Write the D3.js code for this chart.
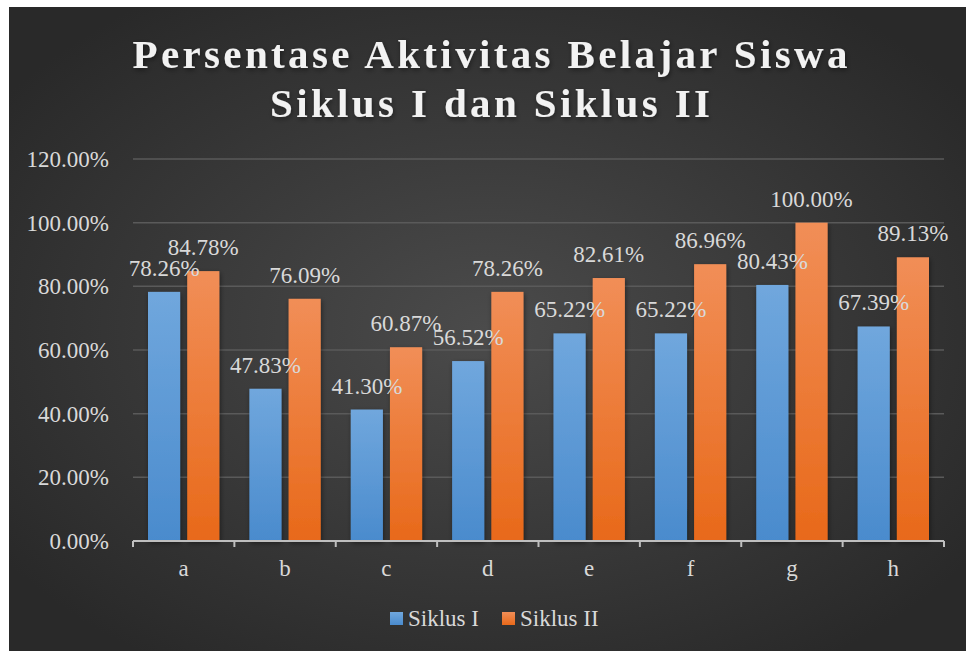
<!DOCTYPE html>
<html>
<head>
<meta charset="utf-8">
<title>Persentase Aktivitas Belajar Siswa</title>
<script src="https://cdn.jsdelivr.net/npm/d3@7"></script>
<style>
    body { margin: 0; background: #fff; }
    svg { display: block; }
    .tick-label, .cat-label, .value-label, .legend-label {
        font-family: "Liberation Serif", "Times New Roman", serif;
        font-size: 23px;
        fill: #d9d9d9;
    }
    .title {
        font-family: "Liberation Serif", "Times New Roman", serif;
        font-weight: bold;
        font-size: 41px;
        fill: #f2f2f2;
    }
</style>
</head>
<body>
<script>
    var categories = ["a", "b", "c", "d", "e", "f", "g", "h"];
    var seriesNames = ["Siklus I", "Siklus II"];
    var siklus1 = [78.26, 47.83, 41.30, 56.52, 65.22, 65.22, 80.43, 67.39];
    var siklus2 = [84.78, 76.09, 60.87, 78.26, 82.61, 86.96, 100.00, 89.13];
    var yTicks = [0, 20, 40, 60, 80, 100, 120];

    var width = 966, height = 651;
    var plot = { left: 133, right: 944, top: 159, bottom: 541 };

    var svg = d3.select("body").append("svg")
        .attr("width", width)
        .attr("height", height);

    var defs = svg.append("defs");

    var bg = defs.append("radialGradient")
        .attr("id", "bg")
        .attr("cx", "50%").attr("cy", "50%").attr("r", "62%");
    bg.append("stop").attr("offset", "0%").attr("stop-color", "#4b4b4b");
    bg.append("stop").attr("offset", "100%").attr("stop-color", "#292929");

    function barGradient(id, top, bottom) {
        var g = defs.append("linearGradient")
            .attr("id", id)
            .attr("x1", 0).attr("y1", 0).attr("x2", 0).attr("y2", 1);
        g.append("stop").attr("offset", "0%").attr("stop-color", top);
        g.append("stop").attr("offset", "100%").attr("stop-color", bottom);
    }
    barGradient("blue", "#70a7dd", "#4a8bcd");
    barGradient("orange", "#f18e57", "#e8691a");

    var shadow = defs.append("filter").attr("id", "shadow")
        .attr("x", "-30%").attr("y", "-30%").attr("width", "160%").attr("height", "160%");
    shadow.append("feDropShadow")
        .attr("dx", 1).attr("dy", 2).attr("stdDeviation", 2.5)
        .attr("flood-color", "#000").attr("flood-opacity", 0.45);

    // chart area (white margin left/top like the screenshot)
    svg.append("rect")
        .attr("x", 9).attr("y", 7)
        .attr("width", 957).attr("height", 644)
        .attr("fill", "url(#bg)");

    // title
    var title = svg.append("g").attr("filter", "url(#shadow)");
    title.append("text")
        .attr("class", "title")
        .attr("x", 490).attr("y", 68)
        .attr("text-anchor", "middle")
        .attr("textLength", 715)
        .attr("lengthAdjust", "spacing")
        .text("Persentase Aktivitas Belajar Siswa");
    title.append("text")
        .attr("class", "title")
        .attr("x", 490).attr("y", 117)
        .attr("text-anchor", "middle")
        .attr("textLength", 440)
        .attr("lengthAdjust", "spacing")
        .text("Siklus I dan Siklus II");

    var x = d3.scaleBand()
        .domain(categories)
        .range([plot.left, plot.right]);

    var xs = d3.scaleBand()
        .domain(seriesNames)
        .range([15, x.bandwidth() - 15])
        .paddingInner(0.18);

    var y = d3.scaleLinear()
        .domain([0, 120])
        .range([plot.bottom, plot.top]);

    // gridlines
    svg.append("g").selectAll("line")
        .data(yTicks.slice(1))
        .enter().append("line")
        .attr("x1", plot.left).attr("x2", plot.right)
        .attr("y1", function (d) { return y(d); })
        .attr("y2", function (d) { return y(d); })
        .attr("stroke", "#5a5a5a")
        .attr("stroke-width", 1.5);

    svg.append("g").selectAll("text")
        .data(yTicks)
        .enter().append("text")
        .attr("class", "tick-label")
        .attr("x", 109)
        .attr("y", function (d) { return y(d) + 8; })
        .attr("text-anchor", "end")
        .text(function (d) { return d.toFixed(2) + "%"; });

    // bars
    var rows = categories.map(function (c, i) {
        return { cat: c, values: [siklus1[i], siklus2[i]] };
    });
    var fills = ["url(#blue)", "url(#orange)"];

    var groups = svg.append("g").selectAll("g")
        .data(rows)
        .enter().append("g")
        .attr("transform", function (d) { return "translate(" + x(d.cat) + ",0)"; });

    groups.selectAll("rect")
        .data(function (d) { return d.values.map(function (v, j) { return { s: seriesNames[j], v: v, j: j }; }); })
        .enter().append("rect")
        .attr("x", function (d) { return xs(d.s); })
        .attr("width", xs.bandwidth())
        .attr("y", function (d) { return y(d.v); })
        .attr("height", function (d) { return y(0) - y(d.v); })
        .attr("fill", function (d) { return fills[d.j]; })
        .attr("filter", "url(#shadow)");

    // x axis
    var axis = svg.append("g").attr("transform", "translate(0," + plot.bottom + ")");
    axis.append("line")
        .attr("x1", plot.left).attr("x2", plot.right)
        .attr("stroke", "#bfbfbf").attr("stroke-width", 2);
    axis.selectAll(".tk")
        .data(categories.concat(["end"]))
        .enter().append("line")
        .attr("class", "tk")
        .attr("x1", function (d, i) { return plot.left + i * x.step(); })
        .attr("x2", function (d, i) { return plot.left + i * x.step(); })
        .attr("y1", 0).attr("y2", 6)
        .attr("stroke", "#bfbfbf").attr("stroke-width", 2);
    axis.selectAll(".cat-label")
        .data(categories)
        .enter().append("text")
        .attr("class", "cat-label")
        .attr("x", function (d) { return x(d) + x.bandwidth() / 2; })
        .attr("y", 35)
        .attr("text-anchor", "middle")
        .text(function (d) { return d; });

    // value labels
    groups.selectAll(".value-label")
        .data(function (d) { return d.values.map(function (v, j) { return { s: seriesNames[j], v: v }; }); })
        .enter().append("text")
        .attr("class", "value-label")
        .attr("x", function (d) { return xs(d.s) + xs.bandwidth() / 2; })
        .attr("y", function (d) { return y(d.v) - 16; })
        .attr("text-anchor", "middle")
        .text(function (d) { return d.v.toFixed(2) + "%"; });

    // legend
    var legend = svg.append("g");
    var legendX = [390, 502];
    seriesNames.forEach(function (name, j) {
        legend.append("rect")
            .attr("x", legendX[j]).attr("y", 612)
            .attr("width", 13).attr("height", 13)
            .attr("fill", fills[j]);
        legend.append("text")
            .attr("class", "legend-label")
            .attr("x", legendX[j] + 18).attr("y", 626)
            .text(name);
    });
</script>
</body>
</html>
